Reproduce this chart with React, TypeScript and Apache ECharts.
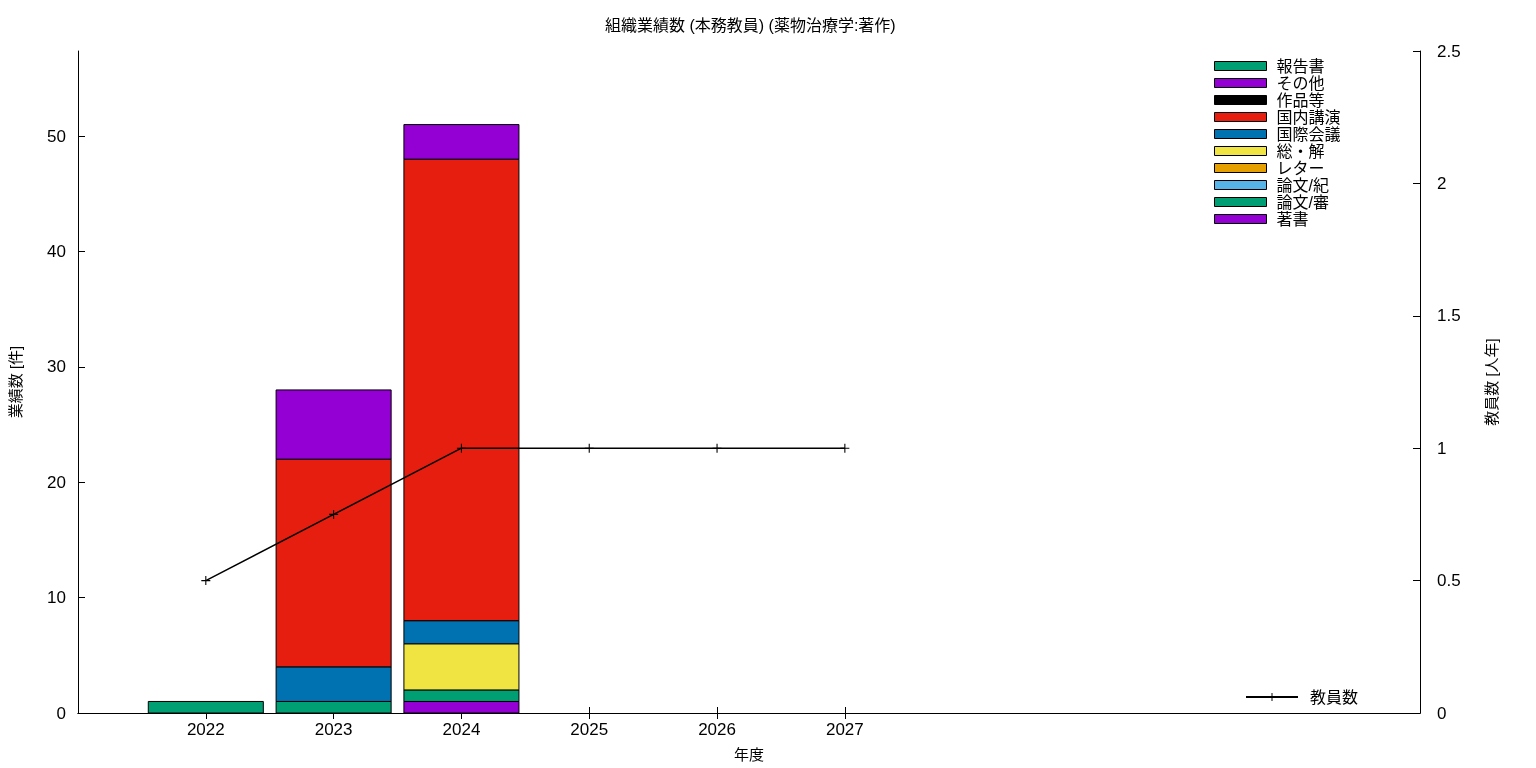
import React, { useEffect, useRef } from "react";
import * as echarts from "echarts";

const title = "組織業績数 (本務教員) (薬物治療学:著作)";
const years = [2022, 2023, 2024, 2025, 2026, 2027];
const leftTicks = [0, 10, 20, 30, 40, 50];
const rightTicks = [0, 0.5, 1, 1.5, 2, 2.5];

// stack order, bottom to top
const stackNames = ["著書", "論文/審", "論文/紀", "レター", "総・解", "国際会議", "国内講演", "作品等", "その他", "報告書"];
const stackColors = ["#9400d3", "#009e73", "#56b4e9", "#e69f00", "#f0e442", "#0072b2", "#e51e10", "#000000", "#9400d3", "#009e73"];

const chosho = [0, 0, 1, 0, 0, 0];
const ronbunShin = [1, 1, 1, 0, 0, 0];
const ronbunKi = [0, 0, 0, 0, 0, 0];
const letter = [0, 0, 0, 0, 0, 0];
const soukai = [0, 0, 4, 0, 0, 0];
const kokusai = [0, 3, 2, 0, 0, 0];
const kokunai = [0, 18, 40, 0, 0, 0];
const sakuhin = [0, 0, 0, 0, 0, 0];
const sonota = [0, 6, 3, 0, 0, 0];
const houkoku = [0, 0, 0, 0, 0, 0];
const stackValues = [chosho, ronbunShin, ronbunKi, letter, soukai, kokusai, kokunai, sakuhin, sonota, houkoku];

const staff = [0.5, 0.75, 1, 1, 1, 1];

const FONT = "'Liberation Sans', 'Noto Sans CJK JP', sans-serif";
const BAR_FRACTION = 0.9;

export default function App() {
  const ref = useRef<HTMLDivElement>(null);
  useEffect(() => {
    const chart = echarts.init(ref.current!, null, { renderer: "svg" });

    // cumulative bases for stacking
    const bases = years.map(() => 0);
    const barSeries = stackNames.map((name, i) => {
      const data: number[][] = [];
      years.forEach((y, j) => {
        const v = stackValues[i][j];
        if (v > 0) {
          data.push([y, bases[j], bases[j] + v]);
          bases[j] += v;
        }
      });
      const color = stackColors[i];
      return {
        name,
        type: "custom",
        xAxisIndex: 0,
        yAxisIndex: 0,
        itemStyle: { color, borderColor: "#000", borderWidth: 1 },
        encode: { x: 0, y: [1, 2] },
        data,
        renderItem: (params: any, api: any) => {
          const x = api.value(0);
          const b = api.value(1);
          const t = api.value(2);
          const p0 = api.coord([x - BAR_FRACTION / 2, b]);
          const p1 = api.coord([x + BAR_FRACTION / 2, t]);
          return {
            type: "rect",
            shape: { x: p0[0], y: p1[1], width: p1[0] - p0[0], height: p0[1] - p1[1] },
            style: { fill: color, stroke: "#000", lineWidth: 1 },
          };
        },
      };
    });

    const axisLineStyle = { show: true, lineStyle: { color: "#000", width: 1 } };
    const option: any = {
      animation: false,
      textStyle: { fontFamily: FONT, color: "#000" },
      title: {
        text: title,
        left: 600,
        top: 12,
        textStyle: { fontSize: 16, fontWeight: "normal", color: "#000", fontFamily: FONT },
      },
      grid: { left: 78, right: 116, top: 51, bottom: 55, containLabel: false },
      legend: [
        {
          data: stackNames.slice().reverse(),
          orient: "vertical",
          left: 1209,
          top: 53,
          itemWidth: 52,
          itemHeight: 9,
          itemGap: 1,
          icon: "rect",
          itemStyle: { borderColor: "#000", borderWidth: 1 },
          textStyle: { fontSize: 16, color: "#000", fontFamily: FONT, padding: [0, 0, 0, 5] },
        },
        {
          data: ["教員数"],
          left: 1240,
          top: 684,
          itemWidth: 52,
          itemHeight: 10,
          textStyle: { fontSize: 16, color: "#000", fontFamily: FONT, padding: [0, 0, 0, 7] },
        },
      ],
      xAxis: [
        {
          type: "value",
          min: 2021,
          max: 2031.5,
          position: "bottom",
          name: "年度",
          nameLocation: "middle",
          nameGap: 34,
          nameTextStyle: { fontSize: 15, color: "#000" },
          splitLine: { show: false },
          axisLine: axisLineStyle,
          axisTick: { show: true, inside: true, length: 6, customValues: years, lineStyle: { color: "#000" } },
          axisLabel: { customValues: years, fontSize: 17, color: "#000", margin: 8, formatter: (v: number) => String(v) },
        },
        {
          type: "value",
          min: 2021,
          max: 2031.5,
          position: "top",
          splitLine: { show: false },
          axisLine: axisLineStyle,
          axisTick: { show: true, inside: true, length: 6, customValues: years, lineStyle: { color: "#000" } },
          axisLabel: { show: false },
        },
      ],
      yAxis: [
        {
          type: "value",
          min: 0,
          max: 57.375,
          position: "left",
          name: "業績数 [件]",
          nameLocation: "middle",
          nameGap: 55,
          nameRotate: 90,
          nameTextStyle: { fontSize: 15, color: "#000" },
          splitLine: { show: false },
          axisLine: axisLineStyle,
          axisTick: { show: true, inside: true, length: 7, customValues: leftTicks, lineStyle: { color: "#000" } },
          axisLabel: { customValues: leftTicks, fontSize: 17, color: "#000", margin: 12 },
        },
        {
          type: "value",
          min: 0,
          max: 2.5,
          interval: 0.5,
          position: "right",
          name: "教員数 [人年]",
          nameLocation: "middle",
          nameGap: 64,
          nameRotate: 90,
          nameTextStyle: { fontSize: 15, color: "#000" },
          splitLine: { show: false },
          axisLine: axisLineStyle,
          axisTick: { show: true, inside: true, length: 7, customValues: rightTicks, lineStyle: { color: "#000" } },
          axisLabel: { customValues: rightTicks, fontSize: 17, color: "#000", margin: 17 },
        },
      ],
      series: [
        ...barSeries,
        {
          name: "教員数",
          type: "line",
          xAxisIndex: 0,
          yAxisIndex: 1,
          data: years.map((y, j) => [y, staff[j]]),
          symbol: "path://M-0.6,-5L0.6,-5L0.6,-0.6L5,-0.6L5,0.6L0.6,0.6L0.6,5L-0.6,5L-0.6,0.6L-5,0.6L-5,-0.6L-0.6,-0.6Z",
          symbolSize: 9,
          lineStyle: { color: "#000", width: 1.5 },
          itemStyle: { color: "#000" },
          z: 10,
        },
      ],
    };
    chart.setOption(option);
    return () => chart.dispose();
  }, []);
  return <div ref={ref} style={{ position: "fixed", left: 0, top: 0, width: 1536, height: 768 }} />;
}
